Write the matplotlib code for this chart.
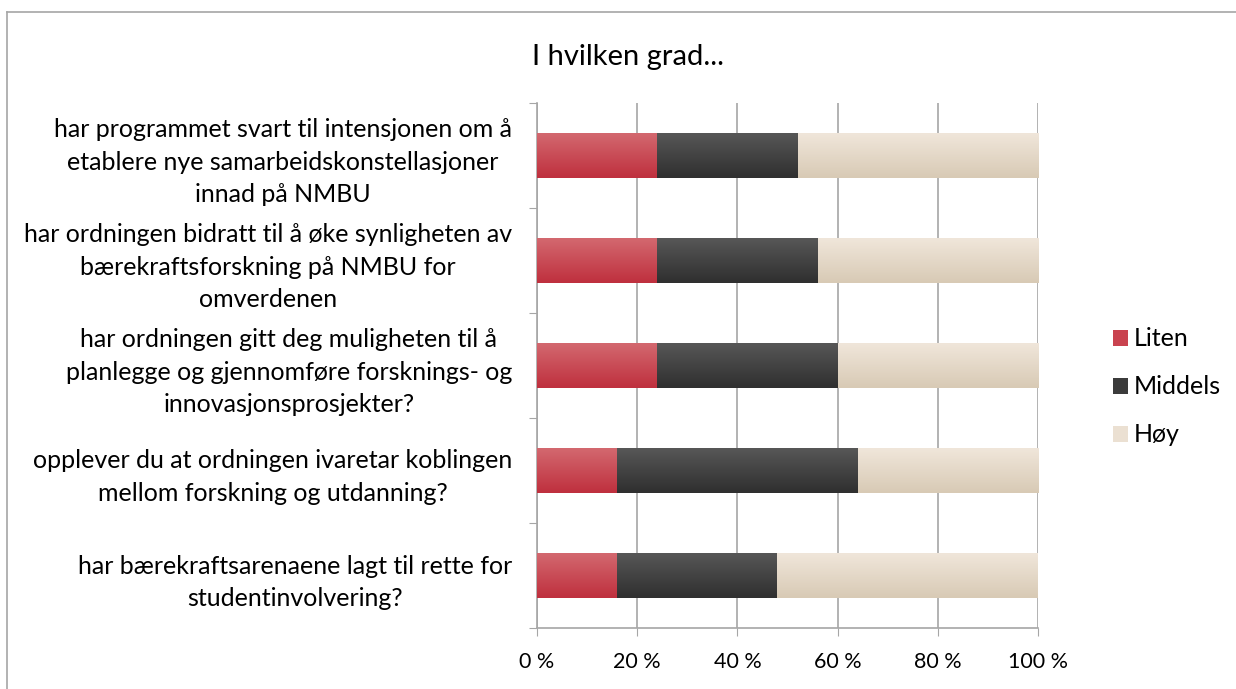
import numpy as np
import matplotlib
matplotlib.use("Agg")
import matplotlib.pyplot as plt
from matplotlib.colors import LinearSegmentedColormap
from matplotlib.patches import Patch
from matplotlib.lines import Line2D

# Data (share of answers, %)
questions = [
    "har programmet svart til intensjonen om å\netablere nye samarbeidskonstellasjoner\ninnad på NMBU",
    "har ordningen bidratt til å øke synligheten av\nbærekraftsforskning på NMBU for\nomverdenen",
    "har ordningen gitt deg muligheten til å\nplanlegge og gjennomføre forsknings- og\ninnovasjonsprosjekter?",
    "opplever du at ordningen ivaretar koblingen\nmellom forskning og utdanning?",
    "har bærekraftsarenaene lagt til rette for\nstudentinvolvering?",
]
series_names = ["Liten", "Middels", "Høy"]
liten = [24, 24, 24, 16, 16]
middels = [28, 32, 36, 48, 32]
hoy = [48, 44, 40, 36, 52]
xticks = [0, 20, 40, 60, 80, 100]
xtick_labels = ["0 %", "20 %", "40 %", "60 %", "80 %", "100 %"]

# gradient colours (top, bottom) per series
grads = [("#d3686f", "#bf303e"), ("#575757", "#2f2f2f"), ("#f0e6da", "#d8cab5")]
mids = ["#c9434f", "#3b3b3b", "#ebe0d2"]

plt.rcParams["font.family"] = ["Lato", "DejaVu Sans"]

fig = plt.figure(figsize=(12.36, 6.89), dpi=100)
ax = fig.add_axes([537 / 1236, 1 - 628 / 689, 501 / 1236, 525 / 689])

y = np.arange(len(questions))
left = np.zeros(len(questions))
for vals, (c_top, c_bot), c_mid in zip([liten, middels, hoy], grads, mids):
    bars = ax.barh(y, vals, left=left, height=0.42, color=c_mid, zorder=2)
    cmap = LinearSegmentedColormap.from_list("g", [c_top, c_bot])
    grad = np.linspace(0, 1, 64).reshape(-1, 1)
    for p in bars.patches:
        x0, y0, w, h = p.get_x(), p.get_y(), p.get_width(), p.get_height()
        ax.imshow(grad, cmap=cmap, aspect="auto", zorder=3, interpolation="bilinear",
                  extent=[x0, x0 + w, y0 + h, y0])
    left += np.array(vals)

ax.set_xlim(0, 100)
ax.set_ylim(len(questions) - 0.5, -0.5)

# x axis
ax.set_xticks(xticks)
ax.set_xticklabels(xtick_labels, fontsize=15.5)
ax.tick_params(axis="x", length=6, color="#a6a6a6", pad=11)
ax.grid(axis="x", color="#a6a6a6", linewidth=1.2, zorder=1)

# y axis: boundaries as major ticks, labels on minor
ax.set_yticks(np.arange(len(questions) + 1) - 0.5)
ax.set_yticklabels([])
ax.set_yticks(y, minor=True)
ax.set_yticklabels(questions, minor=True, fontsize=18)
for lab in ax.get_yticklabels(minor=True):
    lab.set_multialignment("center")
    lab.set_linespacing(1.48)
ax.tick_params(axis="y", which="major", length=6, color="#a6a6a6")
ax.tick_params(axis="y", which="minor", length=0, pad=18)

for s in ["top", "right"]:
    ax.spines[s].set_visible(False)
for s in ["left", "bottom"]:
    ax.spines[s].set_color("#a6a6a6")
    ax.spines[s].set_linewidth(1.2)

fig.text(628 / 1236, 1 - 57 / 689, "I hvilken grad...", fontsize=21, ha="center", va="center")

handles = [Patch(facecolor=c, edgecolor="none") for c in mids]
fig.legend(handles, series_names, loc="center left", bbox_to_anchor=(1090 / 1236, 1 - 387 / 689),
           frameon=False, fontsize=18, handlelength=0.6, handleheight=0.6, handletextpad=0.25,
           labelspacing=1.0)

# outer chart frame
fig.add_artist(Line2D([7 / 1236, 1.0], [1 - 12 / 689, 1 - 12 / 689], color="#a6a6a6", lw=1.2,
                      transform=fig.transFigure))
fig.add_artist(Line2D([7 / 1236, 7 / 1236], [0.0, 1 - 12 / 689], color="#a6a6a6", lw=1.2,
                      transform=fig.transFigure))

fig.savefig("out.png", dpi=100)
